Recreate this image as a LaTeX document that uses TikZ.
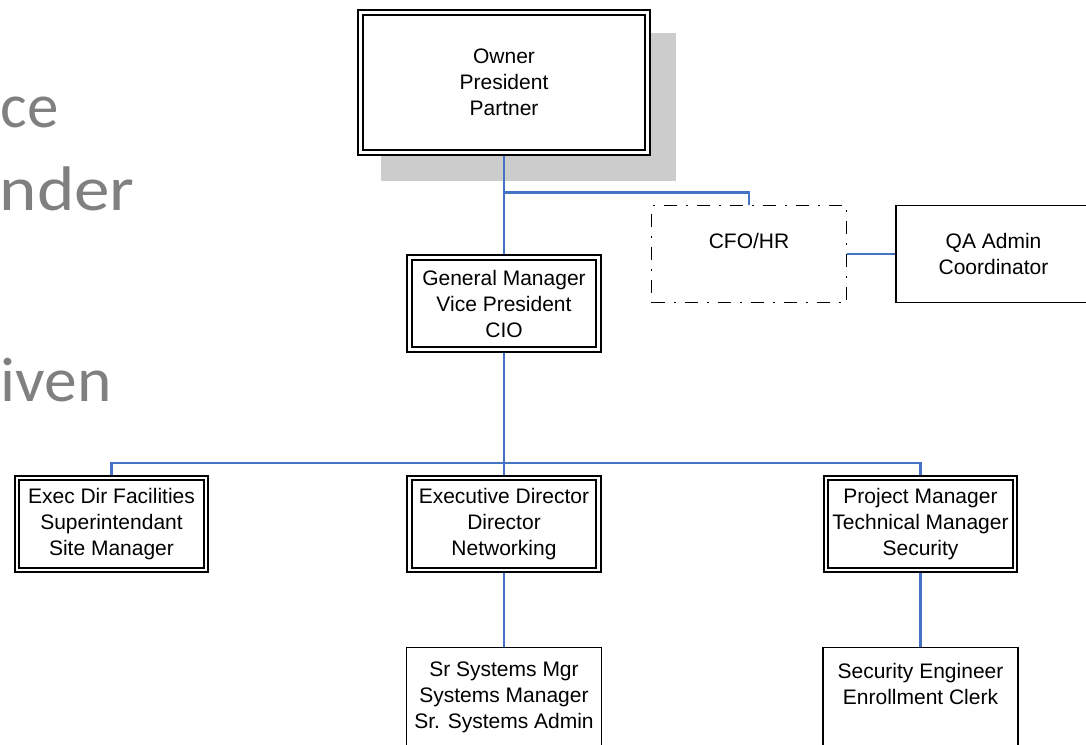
\documentclass[tikz,border=0pt]{standalone}
\usepackage{fontspec}
\setmainfont{Liberation Sans}
\newfontfamily\slidefont{Carlito}
\usetikzlibrary{backgrounds}
\definecolor{connblue}{RGB}{68,114,196}
\definecolor{shadowgray}{RGB}{204,204,204}
\definecolor{slidegray}{RGB}{128,128,128}
\pgfdeclarelayer{shadowlayer}
\pgfdeclarelayer{connlayer}
\pgfsetlayers{shadowlayer,connlayer,main}
\newcommand{\slidestretch}[2][1.1]{\scalebox{#1}[1]{#2}}
\tikzset{
  dbox/.style={draw=black, fill=white, double=white, line width=2.1pt, double distance=2.2pt,
    minimum width=189pt, minimum height=92pt, align=center, inner sep=0pt},
  sbox/.style={draw=black, fill=white, line width=1.6pt,
    minimum width=195pt, minimum height=97pt, align=center, inner sep=0pt},
  dashbox/.style={sbox, dash pattern=on 13pt off 9pt on 2pt off 9pt},
  conn/.style={draw=connblue, line width=2.2pt},
  slidetext/.style={text=slidegray, font={\slidefont\fontsize{63}{70}\selectfont}, inner sep=0pt, anchor=base east},
  toptext/.style={anchor=north, inner sep=0pt, align=center},
}
\begin{document}
\begin{tikzpicture}[x=1pt, y=-1pt, font={\fontsize{21}{26}\selectfont}]
\useasboundingbox (0,0) rectangle (1086,744);
\clip (0,0) rectangle (1086,744);

% slide text fragments
\node[slidetext] (s1) at (59,127) {\slidestretch[1.0]{ce}};
\node[slidetext] (s2) at (135,210) {\slidestretch[1.13]{nder}};
\node[slidetext] (s3) at (112,401) {\slidestretch[1.04]{iven}};

% boxes
\node[dbox, minimum width=287pt, minimum height=140pt] (owner) at (504,82.5) {Owner\\President\\Partner};
\node[dbox] (gm) at (504,303.5) {General Manager\\Vice President\\CIO};
\node[dashbox, label={[toptext, yshift=-28.5pt]north:CFO/HR}] (cfo) at (749,254) {};
\node[sbox] (qa) at (993.5,254) {QA Admin\\Coordinator};
\node[dbox] (exec) at (111.5,524) {Exec Dir Facilities\\Superintendant\\Site Manager};
\node[dbox] (ed) at (504,524) {Executive Director\\Director\\Networking};
\node[dbox] (pm) at (920.5,524) {Project Manager\\Technical Manager\\Security};
\node[sbox, minimum height=99pt] (sr) at (504,697) {Sr Systems Mgr\\Systems Manager\\Sr. Systems Admin};
\node[sbox, minimum height=99pt, label={[toptext, yshift=-16.5pt]north:Security Engineer\\Enrollment Clerk}] (se) at (920.5,697) {};

% shadow
\begin{pgfonlayer}{shadowlayer}
\fill[shadowgray] (381,33) rectangle (676,181);
\end{pgfonlayer}

% connectors
\coordinate (j1) at (504,192.5);
\coordinate (j2) at (504,463);
\begin{pgfonlayer}{connlayer}
\draw[conn] (owner.south) -- (gm.north);
\draw[conn] (j1) -| (cfo.north);
\draw[conn] (cfo.east) -- (qa.west);
\draw[conn] (gm.south) -- (ed.north);
\draw[conn] (exec.north) |- (j2) -| (pm.north);
\draw[conn] (ed.south) -- (sr.north);
\draw[conn] (pm.south) -- (se.north);
\end{pgfonlayer}
\end{tikzpicture}
\end{document}
